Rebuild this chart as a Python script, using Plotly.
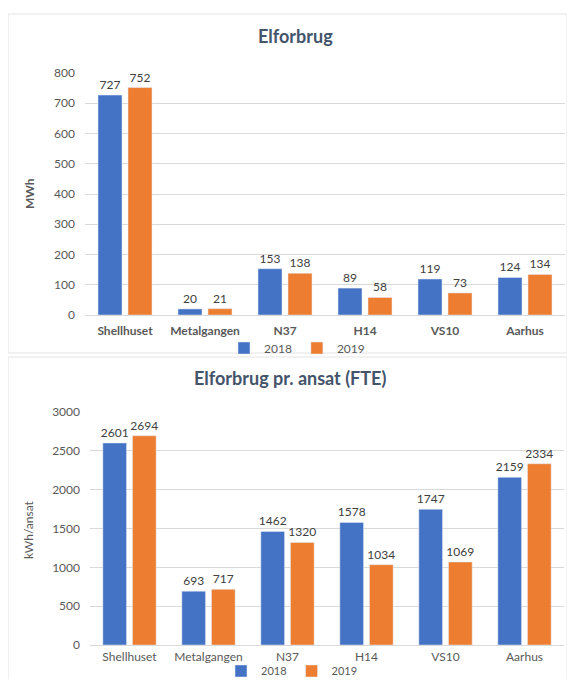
import plotly.graph_objects as go

categories = ["Shellhuset", "Metalgangen", "N37", "H14", "VS10", "Aarhus"]
mwh_2018 = [727, 20, 153, 89, 119, 124]
mwh_2019 = [752, 21, 138, 58, 73, 134]
fte_2018 = [2601, 693, 1462, 1578, 1747, 2159]
fte_2019 = [2694, 717, 1320, 1034, 1069, 2334]
top_ticks = [0, 100, 200, 300, 400, 500, 600, 700, 800]
bottom_ticks = [0, 500, 1000, 1500, 2000, 2500, 3000]

# page body has an 8px margin; the figure is sized to fit inside the window
OFF = 8
W, H = 575 - 2 * OFF, 687 - 2 * OFF
BLUE = "#4472C4"
ORANGE = "#ED7D31"
FONT = "Lato, Carlito, Calibri, sans-serif"
TICK = "#595959"
LABEL = "#404040"
TITLE = "#44546A"
GRID = "#D9D9D9"


def px(x):
    return (x - OFF) / W


def py(y):
    return 1 - (y - OFF) / H


def bar(xs, ys, name, color, xa, ya, leg):
    return go.Bar(x=xs, y=ys, name=name, marker_color=color,
                  text=ys, textposition="outside", cliponaxis=False,
                  constraintext="none",
                  textfont=dict(size=12, color=LABEL), xaxis=xa, yaxis=ya,
                  legend=leg)


fig = go.Figure()
fig.add_trace(bar(categories, mwh_2018, "2018", BLUE, "x", "y", "legend"))
fig.add_trace(bar(categories, mwh_2019, "2019", ORANGE, "x", "y", "legend"))
fig.add_trace(bar(categories, fte_2018, "2018", BLUE, "x2", "y2", "legend2"))
fig.add_trace(bar(categories, fte_2019, "2019", ORANGE, "x2", "y2", "legend2"))

fig.update_layout(
    width=W, height=H,
    margin=dict(l=0, r=0, t=0, b=0, autoexpand=False),
    paper_bgcolor="white", plot_bgcolor="white",
    font=dict(family=FONT, color=TICK, size=12),
    barmode="group", bargap=0.25, bargroupgap=0.2,
    xaxis=dict(domain=[px(85), px(565)], anchor="y", showgrid=False,
               showline=True, linecolor=GRID, ticks="", ticklabelstandoff=5,
               tickfont=dict(size=12, color=TICK, weight="bold")),
    yaxis=dict(domain=[py(315), py(73)], anchor="x", range=[0, 800],
               tickvals=top_ticks, showgrid=True, gridcolor=GRID, zeroline=False,
               showline=False, ticks="", ticklabelstandoff=9,
               tickfont=dict(size=12, color=TICK)),
    xaxis2=dict(domain=[px(90), px(564)], anchor="y2", showgrid=False,
                showline=True, linecolor=GRID, ticks="", ticklabelstandoff=1,
                tickfont=dict(size=12, color=TICK)),
    yaxis2=dict(domain=[py(645), py(412)], anchor="x2", range=[0, 3000],
                tickvals=bottom_ticks, showgrid=True, gridcolor=GRID, zeroline=False,
                showline=False, ticks="", ticklabelstandoff=9,
                tickfont=dict(size=12, color=TICK)),
    legend=dict(orientation="h", x=px(297), xanchor="center", y=py(348),
                yanchor="middle", font=dict(size=12, color=TICK),
                bgcolor="rgba(0,0,0,0)", itemwidth=30, tracegroupgap=0,
                itemclick=False),
    legend2=dict(orientation="h", x=px(292), xanchor="center", y=py(671),
                 yanchor="middle", font=dict(size=11, color=TICK),
                 bgcolor="rgba(0,0,0,0)", itemwidth=30, tracegroupgap=0,
                 itemclick=False),
    shapes=[
        dict(type="rect", xref="paper", yref="paper", x0=px(8), x1=1,
             y0=py(353), y1=py(14), line=dict(color="#E4E4E4", width=1),
             fillcolor="rgba(0,0,0,0)", layer="below"),
        dict(type="rect", xref="paper", yref="paper", x0=px(8), x1=1,
             y0=-0.05, y1=py(357), line=dict(color="#E4E4E4", width=1),
             fillcolor="rgba(0,0,0,0)", layer="below"),
    ],
    annotations=[
        dict(text="<b>Elforbrug</b>", xref="paper", yref="paper", x=px(295),
             y=py(36), showarrow=False, xanchor="center", yanchor="middle",
             font=dict(size=18, color=TITLE)),
        dict(text="<b>Elforbrug pr. ansat (FTE)</b>", xref="paper", yref="paper",
             x=px(290), y=py(378), showarrow=False, xanchor="center",
             yanchor="middle", font=dict(size=18, color=TITLE)),
        dict(text="<b>MWh</b>", xref="paper", yref="paper", x=px(29),
             y=py(194), showarrow=False, textangle=-90, xanchor="center",
             yanchor="middle", font=dict(size=12, color=TICK)),
        dict(text="kWh/ansat", xref="paper", yref="paper", x=px(28),
             y=py(530), showarrow=False, textangle=-90, xanchor="center",
             yanchor="middle", font=dict(size=12, color=TICK)),
    ],
)

fig.write_html("out.html")
